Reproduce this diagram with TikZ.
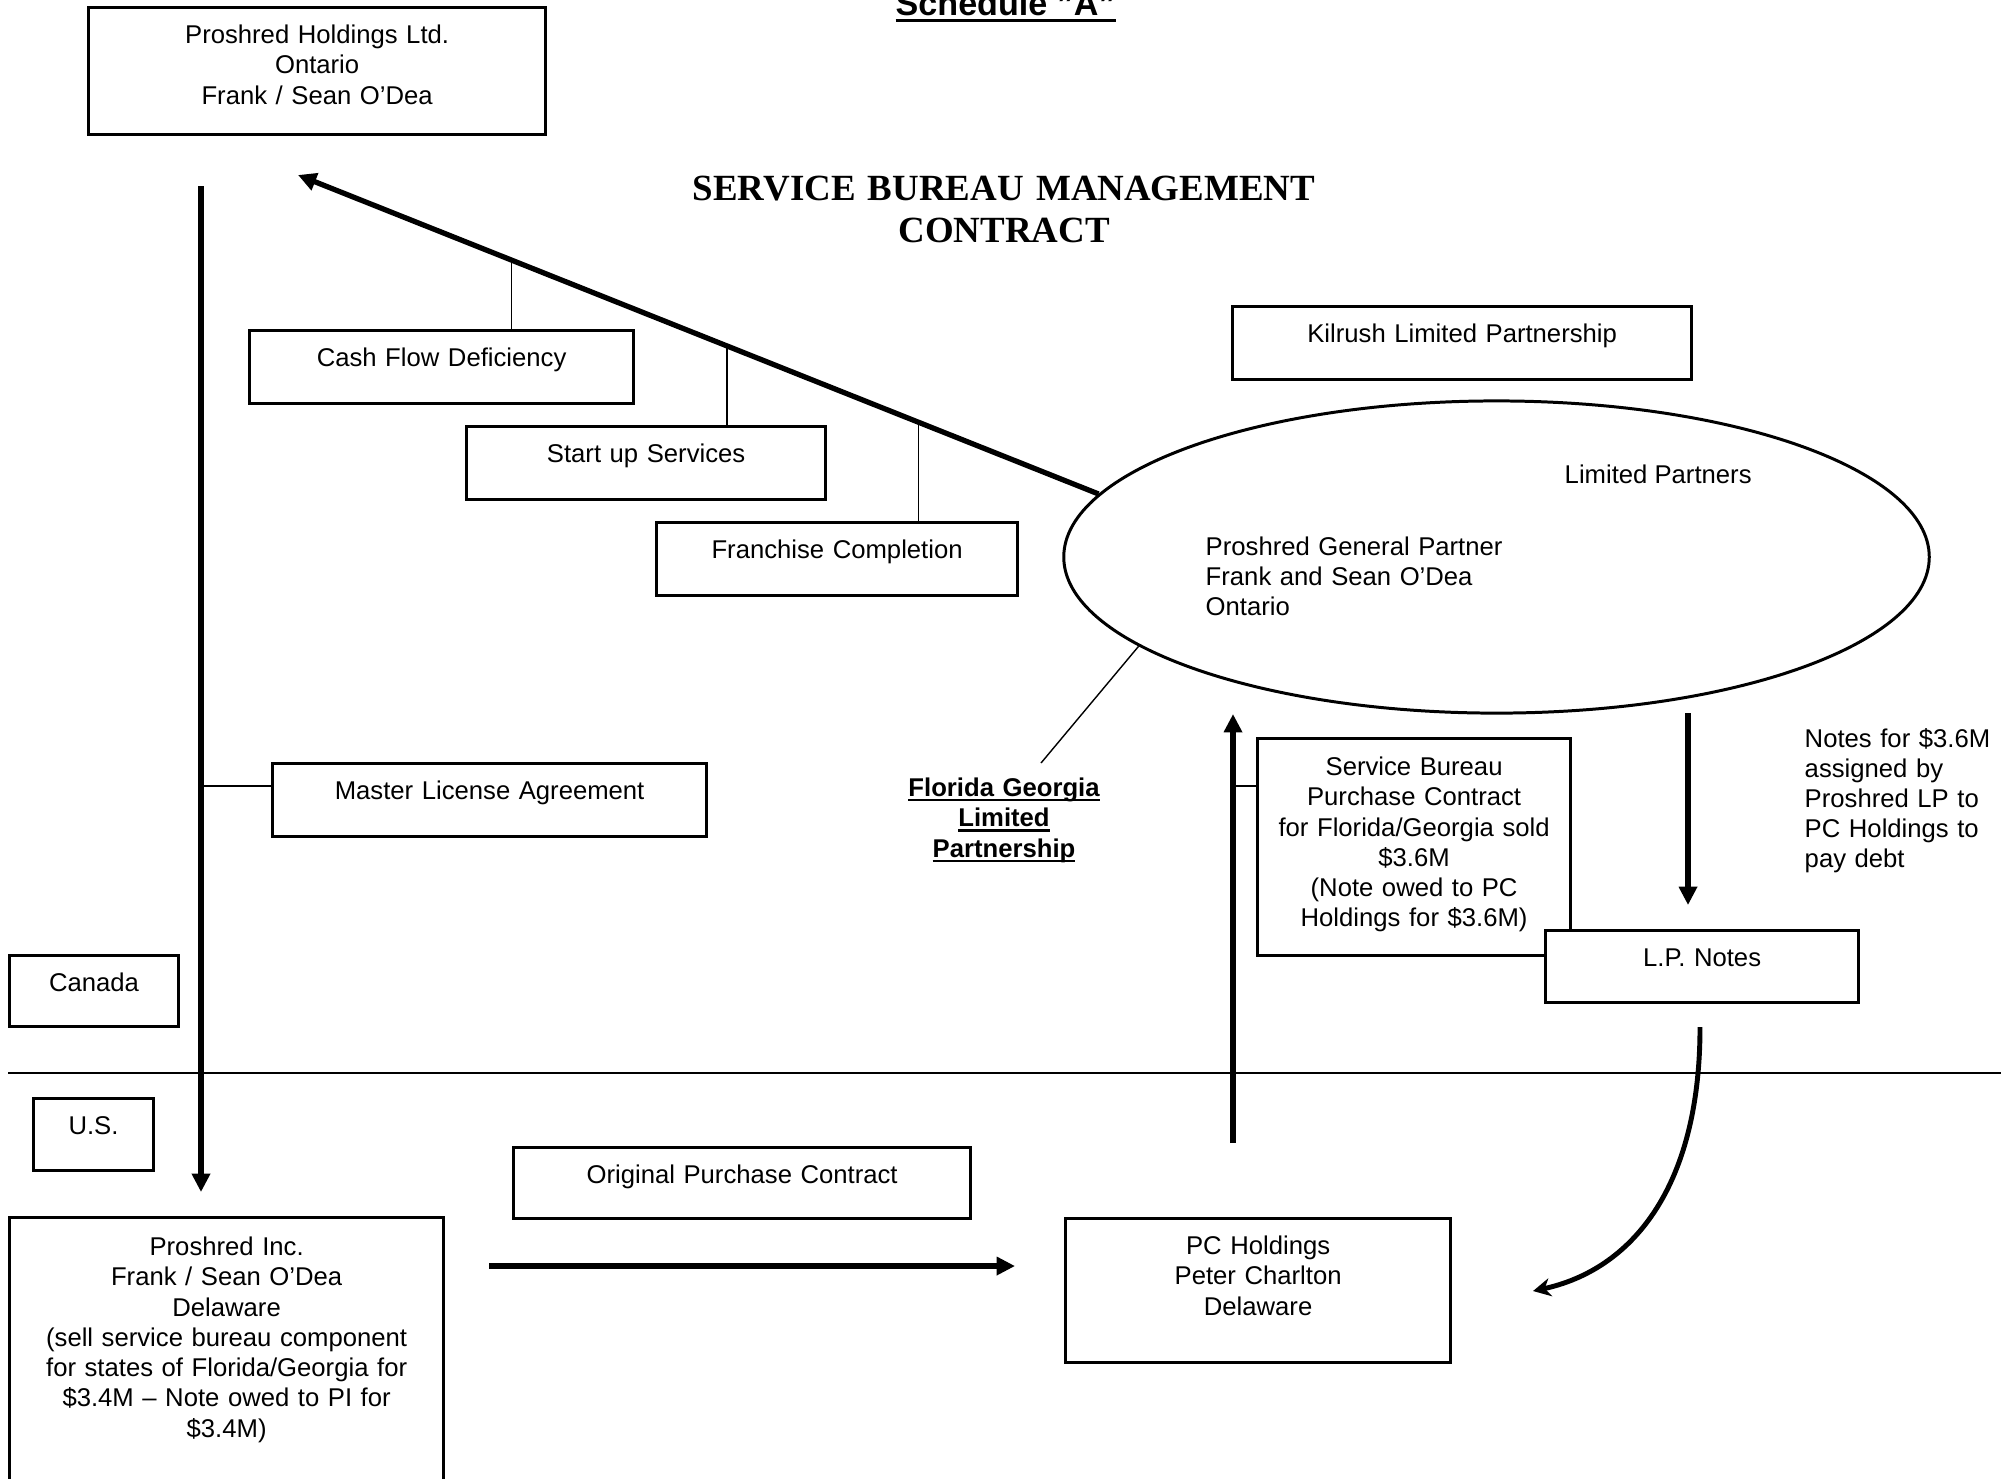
\documentclass[tikz,border=0pt]{standalone}
\usepackage{fontspec}
\setmainfont{Liberation Sans}
\newfontfamily\titlefont{Liberation Serif}
\usetikzlibrary{arrows.meta,shapes.geometric,calc}

\newcommand\undl[1]{\leavevmode\setbox0\hbox{#1}\rlap{\vrule height -0.11em depth 0.2em width \wd0}\box0}

\tikzset{
  box/.style={draw, line width=0.85pt, fill=white, inner sep=0pt, align=center,
    anchor=north west, text height=0.36cm, text depth=0.37cm},
  link/.style={line width=0.4pt},
  flow/.style={line width=1.5pt, -{Triangle[length=5.2pt,width=5pt]}},
  note/.style={inner sep=0pt, align=left, anchor=base west},
}

\begin{document}
\begin{tikzpicture}[x=0.01cm, y=-0.01cm, font=\fontsize{7.3}{8.6}\selectfont]
\useasboundingbox (0,0) rectangle (2007,1478);
\clip (0,0) rectangle (2007,1478);

% headings
\node[anchor=base west, inner sep=0pt, font=\bfseries\fontsize{9.7}{11}\selectfont] (sched) at (895,15) {\undl{Schedule "A"}};
\node[anchor=base, inner sep=0pt, align=center, text width=7cm,
  font=\titlefont\bfseries\fontsize{10.5}{12}\selectfont] (heading) at (1004,200) {SERVICE BUREAU MANAGEMENT\\CONTRACT};

% boxes
\node[box, text width=4.57cm, text depth=0.91cm] (hold) at (87,6) {Proshred Holdings Ltd.\\Ontario\\Frank / Sean O’Dea};
\node[box, text width=3.84cm] (cash) at (248,329) {Cash Flow Deficiency};
\node[box, text width=3.59cm] (start) at (465,425) {Start up Services};
\node[box, text width=3.61cm] (franch) at (655,521) {Franchise Completion};
\node[box, text width=4.59cm] (kil) at (1231,305) {Kilrush Limited Partnership};
\node[box, text width=4.34cm] (mla) at (271,762) {Master License Agreement};
\node[box, text width=1.69cm, text depth=0.35cm] (can) at (8,954) {Canada};
\node[box, text width=1.20cm, text depth=0.36cm] (us) at (32,1097) {U.S.};
\node[box, text width=4.34cm, text height=0.38cm, text depth=2.48cm] (inc) at (8,1216)
  {Proshred Inc.\\Frank / Sean O’Dea\\Delaware\\(sell service bureau component\\for states of Florida/Georgia for\\\$3.4M – Note owed to PI for\\\$3.4M)};
\node[box, text width=4.57cm, text depth=0.35cm] (opc) at (512,1146) {Original Purchase Contract};
\node[box, text width=3.85cm, text depth=1.08cm] (pch) at (1064,1217) {PC Holdings\\Peter Charlton\\Delaware};
\node[box, text width=3.13cm, text height=0.37cm, text depth=1.80cm] (sbpc) at (1256,737)
  {Service Bureau\\Purchase Contract\\for Florida/Georgia sold\\\$3.6M\\(Note owed to PC\\Holdings for \$3.6M)};
\node[box, text width=3.13cm, text depth=0.36cm] (lpn) at (1544,929) {L.P. Notes};

% partnership
\node[draw, ellipse, line width=0.85pt, inner sep=0pt, minimum width=8.65cm, minimum height=3.12cm] (lp) at (1496.5,557) {};
\node[note] (lps) at (1564,483) {Limited Partners};
\node[note, text width=3cm] (gp) at (1205,555) {Proshred General Partner\\Frank and Sean O’Dea\\Ontario};
\node[note, anchor=base, align=center, text width=2.4cm, font=\bfseries\fontsize{7.3}{8.7}\selectfont] (fglp) at (1004,796)
  {\undl{Florida Georgia}\\\undl{Limited}\\\undl{Partnership}};
\node[note, text width=2.1cm] (lpnote) at (1804,747) {Notes for \$3.6M\\assigned by\\Proshred LP to\\PC Holdings to\\pay debt};

% management contract
\coordinate (mgmt) at (298,175);
\draw[flow] (lp.171) -- (mgmt);
\foreach \nm/\pos in {cash/0.267, start/0.536, franch/0.775}
  \draw[link] ($(mgmt)!\pos!(lp.171)$) coordinate (\nm-j) -- (\nm.north -| \nm-j);

% licence
\coordinate (licstart) at (201,186);
\coordinate (lictip) at (201,1192);
\draw[flow] (licstart) -- (lictip);
\coordinate (licj) at (201,786);
\draw[link] (licj) -- (licj -| mla.west);

% border
\coordinate (bw) at (8,1073);
\coordinate (be) at (2001,1073);
\draw[line width=0.6pt] (bw) -- (be);

% purchase
\coordinate (opl) at (489,1266);
\coordinate (opr) at (1015,1266);
\draw[flow] (opl) -- (opr);
\coordinate (sbl) at (1233,1143);
\coordinate (sbt) at (1233,714);
\draw[flow] (sbl) -- (sbt);
\coordinate (sbj) at (1233,786);
\draw[link] (sbj) -- (sbj -| sbpc.west);

% notes
\coordinate (ntop) at (1688,713);
\coordinate (ntip) at (1688,905);
\draw[flow] (ntop) -- (ntip);
\coordinate (cvs) at (1700,1027);
\coordinate (cvt) at (1533,1291);
\draw[line width=1.4pt, -{Stealth[length=5pt,width=5.2pt,inset=1.6pt]}] (cvs) .. controls (1700,1190) and (1630,1270) .. (cvt);

\coordinate (fgtop) at (1041,763);
\draw[link] (lp.194) -- (fgtop);
\end{tikzpicture}
\end{document}
